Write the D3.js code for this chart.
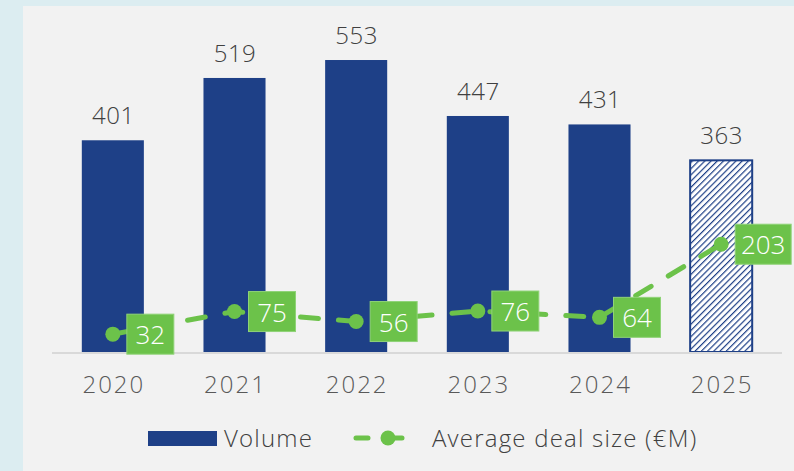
<!DOCTYPE html>
<html>
<head>
<meta charset="utf-8">
<script src="https://cdn.jsdelivr.net/npm/d3@7"></script>
<style>
  html, body { margin: 0; padding: 0; background: #dcedf1; }
  svg { display: block; font-family: "Open Sans", Lato, sans-serif; font-weight: 300; }
</style>
</head>
<body>
<div id="chart"></div>
<script>
// chart data
const years = ['2020', '2021', '2022', '2023', '2024', '2025'];
const volume = [401, 519, 553, 447, 431, 363];
const avgDealSize = [32, 75, 56, 76, 64, 203];
const projectedYears = ['2025'];

const width = 794;
const height = 471;

const navy = '#1e4087';
const green = '#6cc24a';

const svg = d3
  .select('#chart')
  .append('svg')
  .attr('width', width)
  .attr('height', height);

// hatch for the projected year
const defs = svg.append('defs');
const hatch = defs
  .append('pattern')
  .attr('id', 'hatch')
  .attr('patternUnits', 'userSpaceOnUse')
  .attr('width', 4.4)
  .attr('height', 4.4)
  .attr('patternTransform', 'rotate(45)');
hatch.append('rect').attr('width', 4.4).attr('height', 4.4).attr('fill', '#fff');
hatch
  .append('line')
  .attr('x1', 0).attr('y1', 0)
  .attr('x2', 0).attr('y2', 4.4)
  .attr('stroke', navy)
  .attr('stroke-width', 2.4);

// light grey panel
svg.append('rect')
  .attr('x', 23)
  .attr('y', 6)
  .attr('width', width - 23)
  .attr('height', height - 6)
  .attr('fill', '#f2f2f2');

const plot = { left: 52, right: 782, bottom: 352 };

const xScale = d3
  .scaleBand()
  .domain(years)
  .range([plot.left, plot.right])
  .paddingInner(0.49)
  .paddingOuter(0.245);

const yScale = d3
  .scaleLinear()
  .domain([0, 600])
  .range([plot.bottom, plot.bottom - 600 * 0.528]);

// secondary axis for the deal size line
const yLine = d3
  .scaleLinear()
  .domain([0, 600])
  .range([351, 351 - 600 * 0.526]);

// bars
svg.append('g')
  .selectAll('rect')
  .data(years)
  .join('rect')
  .attr('x', (d) => xScale(d))
  .attr('y', (d, i) => yScale(volume[i]))
  .attr('width', xScale.bandwidth())
  .attr('height', (d, i) => yScale(0) - yScale(volume[i]))
  .attr('fill', (d) => (projectedYears.includes(d) ? 'url(#hatch)' : navy))
  .attr('stroke', (d) => (projectedYears.includes(d) ? navy : 'none'))
  .attr('stroke-width', 2);

// baseline
svg.append('line')
  .attr('x1', plot.left)
  .attr('x2', plot.right)
  .attr('y1', plot.bottom + 1)
  .attr('y2', plot.bottom + 1)
  .attr('stroke', '#d9d9d9')
  .attr('stroke-width', 2);

// bar value labels
svg.append('g')
  .selectAll('text')
  .data(years)
  .join('text')
  .attr('x', (d) => xScale(d) + xScale.bandwidth() / 2 + 0.5)
  .attr('y', (d, i) => yScale(volume[i]) - 16)
  .attr('text-anchor', 'middle')
  .attr('font-size', 24)
  .attr('letter-spacing', 0.5)
  .attr('fill', '#404040')
  .text((d, i) => volume[i]);

// x axis labels
const xAxis = d3.axisBottom(xScale).tickSize(0).tickPadding(0);
const xg = svg.append('g')
  .attr('transform', `translate(0, ${plot.bottom})`)
  .call(xAxis);
xg.select('.domain').remove();
xg.selectAll('text')
  .attr('y', 41)
  .attr('dy', 0)
  .attr('dx', 1)
  .attr('font-size', 24)
  .attr('font-family', '"Open Sans", Lato, sans-serif')
  .attr('font-weight', 300)
  .attr('letter-spacing', 2)
  .attr('fill', '#595959');

// deal size line
const cx = (d) => xScale(d) + xScale.bandwidth() / 2;
const line = d3
  .line()
  .x((d) => cx(d))
  .y((d, i) => yLine(avgDealSize[i]));

svg.append('path')
  .datum(years)
  .attr('d', line)
  .attr('fill', 'none')
  .attr('stroke', green)
  .attr('stroke-width', 5)
  .attr('stroke-linecap', 'round')
  .attr('stroke-dasharray', '18,20');

svg.append('g')
  .selectAll('circle')
  .data(years)
  .join('circle')
  .attr('cx', (d) => cx(d))
  .attr('cy', (d, i) => yLine(avgDealSize[i]))
  .attr('r', 7.5)
  .attr('fill', green);

// green data labels
const labels = svg.append('g')
  .selectAll('g')
  .data(years)
  .join('g')
  .attr('transform', (d, i) => `translate(${cx(d) + 14}, ${yLine(avgDealSize[i])})`);

labels.append('rect')
  .attr('x', 0)
  .attr('y', -20)
  .attr('width', (d, i) => (String(avgDealSize[i]).length > 2 ? 56 : 47))
  .attr('height', 40)
  .attr('fill', green)
  .attr('stroke', '#8fd377')
  .attr('stroke-width', 1);

labels.append('text')
  .attr('x', (d, i) => (String(avgDealSize[i]).length > 2 ? 28 : 23.5))
  .attr('y', 10)
  .attr('text-anchor', 'middle')
  .attr('font-size', 26)
  .attr('fill', '#fff')
  .text((d, i) => avgDealSize[i]);

// legend
const legend = svg.append('g').attr('transform', 'translate(0, 438)');

legend.append('rect')
  .attr('x', 148)
  .attr('y', -7)
  .attr('width', 69)
  .attr('height', 15)
  .attr('fill', navy);

legend.append('text')
  .attr('x', 224)
  .attr('y', 9)
  .attr('font-size', 24)
  .attr('letter-spacing', 1.2)
  .attr('fill', '#404040')
  .text('Volume');

legend.append('line')
  .attr('x1', 356)
  .attr('x2', 417)
  .attr('y1', 0)
  .attr('y2', 0)
  .attr('stroke', green)
  .attr('stroke-width', 5)
  .attr('stroke-linecap', 'round')
  .attr('stroke-dasharray', '12,22');

legend.append('circle')
  .attr('cx', 388)
  .attr('cy', 0)
  .attr('r', 7.5)
  .attr('fill', green);

legend.append('text')
  .attr('x', 432)
  .attr('y', 9)
  .attr('font-size', 24)
  .attr('letter-spacing', 1.2)
  .attr('fill', '#404040')
  .text('Average deal size (€M)');
</script>
</body>
</html>
